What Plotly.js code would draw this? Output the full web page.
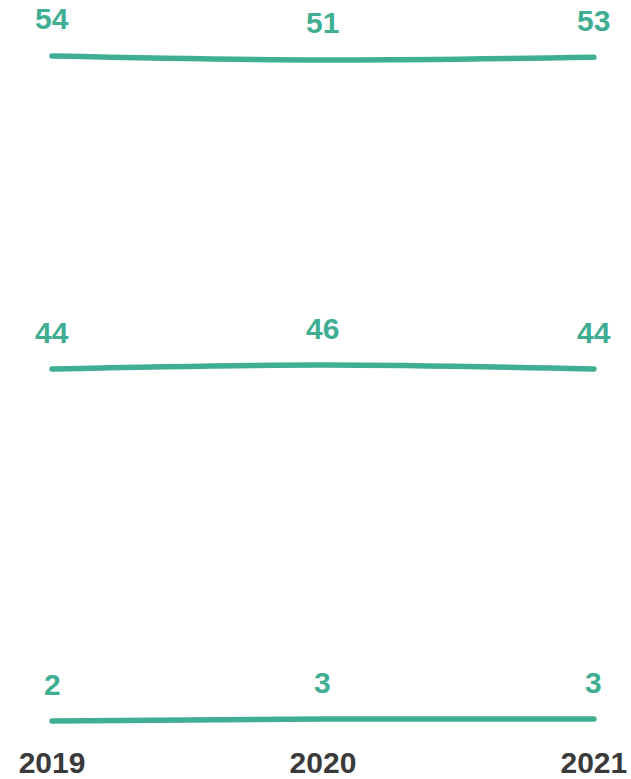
<!DOCTYPE html>
<html>
<head>
<meta charset="utf-8">
<script src="https://cdn.plot.ly/plotly-3.0.1.min.js"></script>
<style>html,body{margin:0;padding:0;background:#fff;}#chart{width:631px;height:779px;}#chart path.js-line{stroke-linecap:round;}</style>
</head>
<body>
<div id="chart"></div>
<script>
const years = [2019, 2020, 2021];
const tickLabels = ['2019', '2020', '2021'];
const seriesTop = [54, 51, 53];
const seriesMid = [44, 46, 44];
const seriesLow = [2, 3, 3];

const green = '#3fae92';
const font = '"Liberation Sans", Arial, sans-serif';

const seriesList = [seriesTop, seriesMid, seriesLow];
const axisIds = ['y', 'y2', 'y3'];
const ranges = [[-451, 96], [-136, 228.5], [-2, 362.5]];

const traces = seriesList.map((s, i) => ({
  x: years, y: s, yaxis: axisIds[i], type: 'scatter', mode: 'lines',
  line: {color: green, width: 5.5, shape: 'spline', smoothing: 1},
  hoverinfo: 'none', showlegend: false
}));

const annotations = [];
seriesList.forEach((s, i) => {
  s.forEach((v, j) => {
    annotations.push({
      x: years[j], y: v, xref: 'x', yref: axisIds[i],
      text: String(v), showarrow: false, yanchor: 'middle', yshift: 37,
      font: {family: font, size: 30, color: green, weight: 'bold'}
    });
  });
});

const layout = {
  width: 631, height: 779,
  margin: {l: 0, r: 0, t: 0, b: 50},
  paper_bgcolor: '#fff', plot_bgcolor: '#fff',
  xaxis: {
    range: [2018.808, 2021.137], tickvals: years, ticktext: tickLabels,
    showgrid: false, zeroline: false, showline: false, ticks: '',
    ticklabelstandoff: 13,
    tickfont: {family: font, size: 30, color: '#3a3a3a', weight: 'bold'}
  },
  yaxis: {range: ranges[0], visible: false, fixedrange: true},
  yaxis2: {range: ranges[1], visible: false, overlaying: 'y'},
  yaxis3: {range: ranges[2], visible: false, overlaying: 'y'},
  annotations: annotations
};

Plotly.newPlot('chart', traces, layout, {displayModeBar: false, staticPlot: true});
</script>
</body>
</html>
